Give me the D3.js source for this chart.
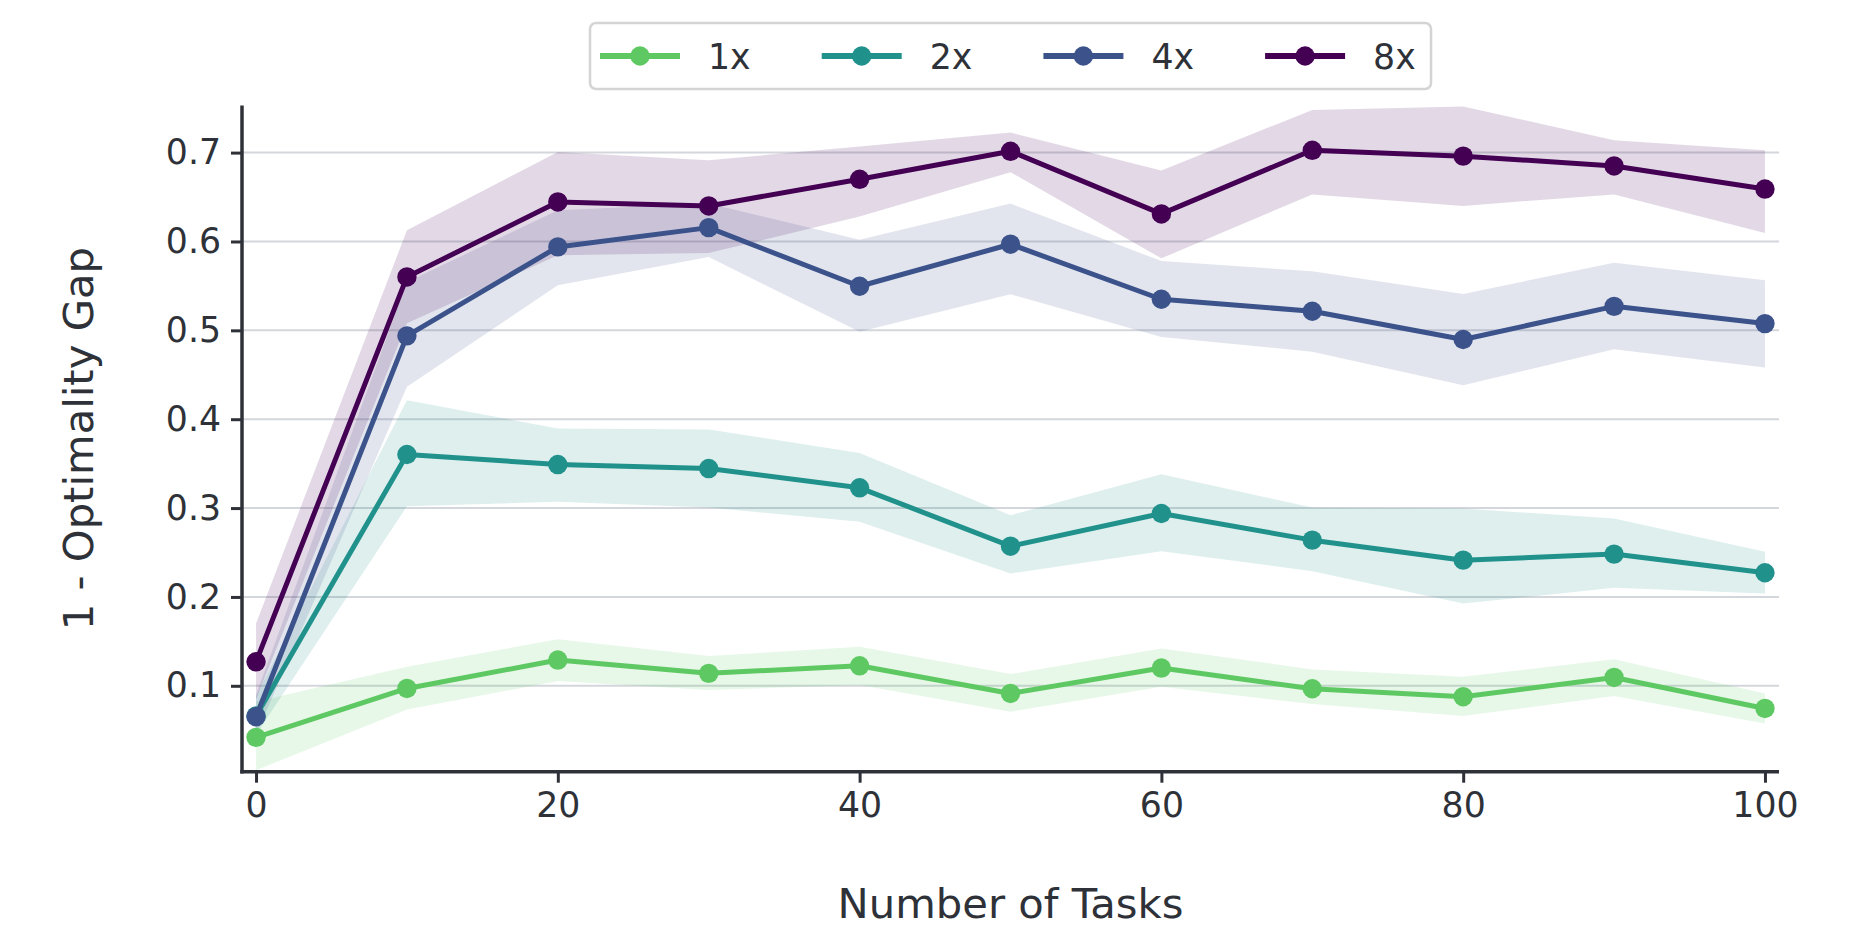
<!DOCTYPE html>
<html>
<head>
<meta charset="utf-8">
<script src="https://cdn.jsdelivr.net/npm/d3@7"></script>
<style>
  body { margin: 0; background: #fff; }
  text { font-family: "DejaVu Sans", sans-serif; fill: #2e3238; }
</style>
</head>
<body>
<div id="container"></div>
<script>
// data
var tasks = [0, 10, 20, 30, 40, 50, 60, 70, 80, 90, 100];
var seriesNames = ["1x", "2x", "4x", "8x"];
var colors = ["#5ec962", "#21918c", "#3b528b", "#440154"];

var mean1x = [0.042, 0.097, 0.129, 0.114, 0.1225, 0.0914, 0.120, 0.0967, 0.0877, 0.1094, 0.0745];
var lo1x   = [0.005, 0.0734, 0.1053, 0.0952, 0.1008, 0.0708, 0.0989, 0.0794, 0.0659, 0.0884, 0.0577];
var hi1x   = [0.082, 0.1214, 0.1525, 0.1334, 0.1439, 0.1132, 0.142, 0.1184, 0.1102, 0.130, 0.0914];

var mean2x = [0.066, 0.3603, 0.349, 0.3445, 0.3228, 0.2571, 0.2939, 0.2639, 0.2414, 0.2482, 0.2272];
var lo2x   = [0.045, 0.3021, 0.307, 0.3006, 0.2845, 0.2264, 0.2515, 0.229, 0.1926, 0.2103, 0.2039];
var hi2x   = [0.088, 0.4214, 0.3895, 0.3884, 0.3621, 0.292, 0.3381, 0.3006, 0.2995, 0.2883, 0.2508];

var mean4x = [0.0652, 0.4938, 0.5939, 0.6156, 0.5496, 0.5969, 0.535, 0.5215, 0.4897, 0.527, 0.5076];
var lo4x   = [0.045, 0.4364, 0.5508, 0.5826, 0.4983, 0.5406, 0.4926, 0.476, 0.4383, 0.4788, 0.4582];
var hi4x   = [0.09, 0.5545, 0.635, 0.6426, 0.602, 0.6426, 0.578, 0.5665, 0.541, 0.576, 0.5564];

var mean8x = [0.127, 0.5601, 0.6445, 0.640, 0.670, 0.7015, 0.631, 0.7026, 0.696, 0.685, 0.659];
var lo8x   = [0.085, 0.508, 0.5845, 0.587, 0.628, 0.678, 0.581, 0.653, 0.640, 0.653, 0.6096];
var hi8x   = [0.170, 0.6126, 0.7008, 0.6914, 0.707, 0.7225, 0.680, 0.748, 0.752, 0.714, 0.7026];

var yTicks = [0.1, 0.2, 0.3, 0.4, 0.5, 0.6, 0.7];
var xTicks = [0, 20, 40, 60, 80, 100];

var means = [mean1x, mean2x, mean4x, mean8x];
var los = [lo1x, lo2x, lo4x, lo8x];
var his = [hi1x, hi2x, hi4x, hi8x];

var W = 1867, H = 928;
var pLeft = 242, pRight = 1779, pTop = 105.6, pBottom = 771.7;
var ink = "#2e3238";

var svg = d3.select("#container").append("svg")
	.attr("width", W)
	.attr("height", H);

var x = d3.scaleLinear().domain([-0.93, 100.93]).range([pLeft, pRight]);
var y = d3.scaleLinear().domain([0.00334, 0.7529]).range([pBottom, pTop]);

svg.append("defs").append("clipPath")
	.attr("id", "plotclip")
	.append("rect")
	.attr("x", pLeft).attr("y", pTop)
	.attr("width", pRight - pLeft).attr("height", pBottom - pTop);

// grid
svg.append("g")
	.selectAll("line")
	.data(yTicks)
	.enter().append("line")
	.attr("x1", pLeft).attr("x2", pRight)
	.attr("y1", function(d) { return y(d); })
	.attr("y2", function(d) { return y(d); })
	.attr("stroke", "#d3d6db")
	.attr("stroke-width", 2);

var plot = svg.append("g").attr("clip-path", "url(#plotclip)");

// bands first, lines on top
var area = d3.area()
	.x(function(d) { return x(d.t); })
	.y0(function(d) { return y(d.lo); })
	.y1(function(d) { return y(d.hi); });

seriesNames.forEach(function(name, i) {
	var rows = tasks.map(function(t, j) { return {t: t, lo: los[i][j], hi: his[i][j]}; });
	plot.append("path")
		.datum(rows)
		.attr("d", area)
		.attr("fill", colors[i])
		.attr("fill-opacity", 0.15);
});

var line = d3.line()
	.x(function(d) { return x(d.t); })
	.y(function(d) { return y(d.v); });

seriesNames.forEach(function(name, i) {
	var rows = tasks.map(function(t, j) { return {t: t, v: means[i][j]}; });
	var g = plot.append("g");
	g.append("path")
		.datum(rows)
		.attr("d", line)
		.attr("fill", "none")
		.attr("stroke", colors[i])
		.attr("stroke-width", 5)
		.attr("stroke-linejoin", "round");
	g.selectAll("circle")
		.data(rows)
		.enter().append("circle")
		.attr("cx", function(d) { return x(d.t); })
		.attr("cy", function(d) { return y(d.v); })
		.attr("r", 9.7)
		.attr("fill", colors[i]);
});

// axes
var xAxis = d3.axisBottom(x).tickValues(xTicks).tickSize(11).tickPadding(10).tickFormat(d3.format("d"));
var yAxis = d3.axisLeft(y).tickValues(yTicks).tickSize(11).tickPadding(10).tickFormat(d3.format(".1f"));

var gx = svg.append("g")
	.attr("transform", "translate(0," + pBottom + ")")
	.call(xAxis);
var gy = svg.append("g")
	.attr("transform", "translate(" + pLeft + ",0)")
	.call(yAxis);

[gx, gy].forEach(function(g) {
	g.select(".domain").remove();
	g.selectAll(".tick line").attr("stroke", ink).attr("stroke-width", 3);
	g.selectAll(".tick text")
		.style("font-size", "34.7px")
		.attr("fill", ink);
});

// spines
svg.append("line")
	.attr("x1", pLeft).attr("x2", pLeft)
	.attr("y1", pTop).attr("y2", pBottom + 1.75)
	.attr("stroke", ink).attr("stroke-width", 3.5);
svg.append("line")
	.attr("x1", pLeft - 1.75).attr("x2", pRight)
	.attr("y1", pBottom).attr("y2", pBottom)
	.attr("stroke", ink).attr("stroke-width", 3.5);

// axis labels
svg.append("text")
	.attr("x", (pLeft + pRight) / 2)
	.attr("y", 918)
	.attr("text-anchor", "middle")
	.style("font-size", "41.7px")
	.text("Number of Tasks");

svg.append("text")
	.attr("transform", "translate(93," + ((pTop + pBottom) / 2) + ") rotate(-90)")
	.attr("text-anchor", "middle")
	.style("font-size", "41.7px")
	.text("1 - Optimality Gap");

// legend
var legX = 590, legY = 23, legW = 841, legH = 66;
var legend = svg.append("g");
legend.append("rect")
	.attr("x", legX).attr("y", legY)
	.attr("width", legW).attr("height", legH)
	.attr("rx", 6)
	.attr("fill", "#fff")
	.attr("stroke", "#d4d4d4")
	.attr("stroke-width", 2.5);

var entry = legend.selectAll(".entry")
	.data(seriesNames)
	.enter().append("g")
	.attr("class", "entry")
	.attr("transform", function(d, i) { return "translate(" + (legX + 10 + i * 221.7) + "," + (legY + legH / 2) + ")"; });
entry.append("line")
	.attr("x1", 0).attr("x2", 80)
	.attr("stroke", function(d, i) { return colors[i]; })
	.attr("stroke-width", 6);
entry.append("circle")
	.attr("cx", 40).attr("r", 9.7)
	.attr("fill", function(d, i) { return colors[i]; });
entry.append("text")
	.attr("x", 108)
	.attr("dy", "0.36em")
	.style("font-size", "34.7px")
	.text(function(d) { return d; });
</script>
</body>
</html>
